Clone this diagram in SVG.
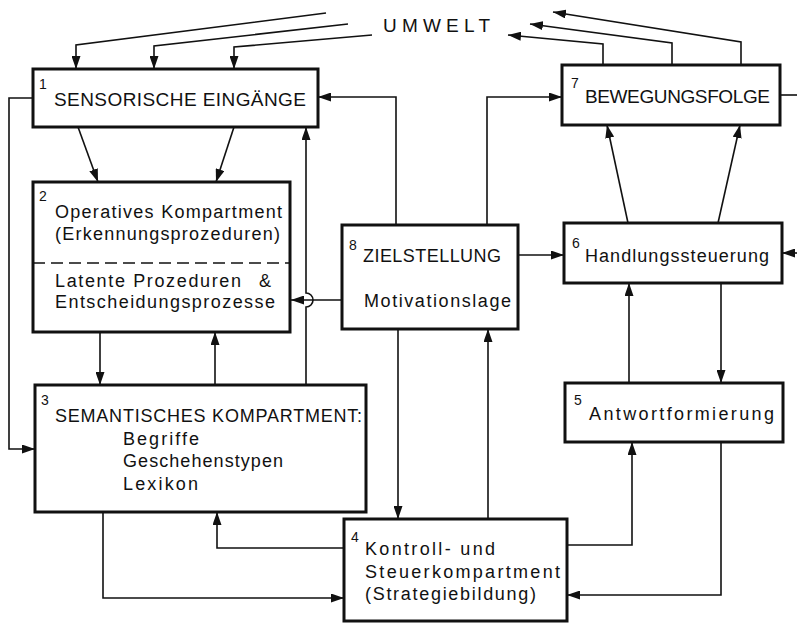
<svg xmlns="http://www.w3.org/2000/svg" width="797" height="623" viewBox="0 0 797 623">
<style>
.box{fill:#fff;stroke:#111;stroke-width:3}
.c{fill:none;stroke:#111;stroke-width:1.6;marker-end:url(#ah)}
.cn{fill:none;stroke:#111;stroke-width:1.6}
.dash{stroke:#111;stroke-width:1.6;stroke-dasharray:12 6}
text{font-family:"Liberation Sans","DejaVu Sans",sans-serif;fill:#111}
.t{font-size:18px}
.T{font-size:19px}
.n{font-size:14px}
</style>
<defs>
<marker id="ah" markerUnits="userSpaceOnUse" markerWidth="13" markerHeight="9" refX="13" refY="4.5" orient="auto">
<path d="M0,0 L13,4.5 L0,9 z" fill="#111"/>
</marker>
</defs>
<rect width="797" height="623" fill="#fff"/>
<text x="383" y="32" class="T" textLength="107" lengthAdjust="spacing">UMWELT</text>
<g id="connectors">
<polyline class="c" points="326,13 76,45 76,69"/>
<polyline class="c" points="348,24 154,46 154,69"/>
<polyline class="c" points="372,35 234,47 234,69"/>
<polyline class="c" points="603,65 603,44 508,35"/>
<polyline class="c" points="672,65 672,43 530,24"/>
<polyline class="c" points="741,65 741,42 553,12"/>
<line class="cn" x1="780" y1="95" x2="797" y2="95"/>
<line class="c" x1="797" y1="253" x2="782" y2="253"/>
<line class="c" x1="78" y1="127" x2="98" y2="182"/>
<line class="c" x1="234" y1="127" x2="216" y2="182"/>
<polyline class="c" points="33,98 9,98 9,449 35,449"/>
<line class="c" x1="100" y1="332" x2="100" y2="385"/>
<line class="c" x1="215" y1="385" x2="215" y2="332"/>
<path class="c" d="M306,385 V307 A7,7 0 0 0 306,293 V127"/>
<line class="c" x1="342" y1="300" x2="291" y2="300"/>
<polyline class="c" points="396,225 396,97 318,97"/>
<polyline class="c" points="487,225 487,97 562,97"/>
<line class="c" x1="518" y1="255" x2="564" y2="255"/>
<line class="c" x1="628" y1="223" x2="607" y2="125"/>
<line class="c" x1="718" y1="223" x2="740" y2="125"/>
<line class="c" x1="721" y1="283" x2="721" y2="383"/>
<line class="c" x1="629" y1="383" x2="629" y2="283"/>
<line class="c" x1="398" y1="329" x2="398" y2="519"/>
<line class="c" x1="488" y1="519" x2="488" y2="329"/>
<polyline class="c" points="567,545 632,545 632,442"/>
<polyline class="c" points="721,442 721,595 567,595"/>
<polyline class="c" points="103,512 103,598 344,598"/>
<polyline class="c" points="344,548 217,548 217,512"/>
</g>
<g id="n1">
<rect class="box" x="33" y="69" width="285" height="58"/>
<text x="39" y="89" class="n">1</text>
<text x="54" y="106" class="T" textLength="252" lengthAdjust="spacing">SENSORISCHE EINGÄNGE</text>
</g>
<g id="n2">
<rect class="box" x="33" y="182" width="257" height="150"/>
<line class="dash" x1="33" y1="263" x2="290" y2="263"/>
<text x="39" y="201" class="n">2</text>
<text x="55" y="218" class="t" textLength="227" lengthAdjust="spacing">Operatives Kompartment</text>
<text x="55" y="240" class="t" textLength="225" lengthAdjust="spacing">(Erkennungsprozeduren)</text>
<text x="55" y="287" class="t" textLength="186" lengthAdjust="spacing">Latente Prozeduren</text>
<text x="259" y="287" class="t">&amp;</text>
<text x="55" y="308" class="t" textLength="220" lengthAdjust="spacing">Entscheidungsprozesse</text>
</g>
<g id="n3">
<rect class="box" x="35" y="385" width="331" height="127"/>
<text x="41" y="405" class="n">3</text>
<text x="55" y="422" class="t" textLength="307" lengthAdjust="spacing">SEMANTISCHES KOMPARTMENT:</text>
<text x="123" y="445" class="t" textLength="76" lengthAdjust="spacing">Begriffe</text>
<text x="123" y="467" class="t" textLength="160" lengthAdjust="spacing">Geschehenstypen</text>
<text x="123" y="490" class="t" textLength="75" lengthAdjust="spacing">Lexikon</text>
</g>
<g id="n4">
<rect class="box" x="344" y="519" width="223" height="102"/>
<text x="351" y="542" class="n">4</text>
<text x="365" y="555" class="t" textLength="130" lengthAdjust="spacing">Kontroll-  und</text>
<text x="365" y="578" class="t" textLength="195" lengthAdjust="spacing">Steuerkompartment</text>
<text x="365" y="600" class="t" textLength="171" lengthAdjust="spacing">(Strategiebildung)</text>
</g>
<g id="n5">
<rect class="box" x="565" y="383" width="218" height="59"/>
<text x="574" y="405" class="n">5</text>
<text x="589" y="420" class="t" textLength="185" lengthAdjust="spacing">Antwortformierung</text>
</g>
<g id="n6">
<rect class="box" x="564" y="223" width="218" height="60"/>
<text x="572" y="248" class="n">6</text>
<text x="585" y="262" class="t" textLength="184" lengthAdjust="spacing">Handlungssteuerung</text>
</g>
<g id="n7">
<rect class="box" x="562" y="65" width="218" height="60"/>
<text x="571" y="88" class="n">7</text>
<text x="585" y="103" class="T" textLength="185" lengthAdjust="spacing">BEWEGUNGSFOLGE</text>
</g>
<g id="n8">
<rect class="box" x="342" y="225" width="176" height="104"/>
<text x="349" y="250" class="n">8</text>
<text x="363" y="262" class="t" textLength="138" lengthAdjust="spacing">ZIELSTELLUNG</text>
<text x="364" y="307" class="t" textLength="147" lengthAdjust="spacing">Motivationslage</text>
</g>
</svg>
